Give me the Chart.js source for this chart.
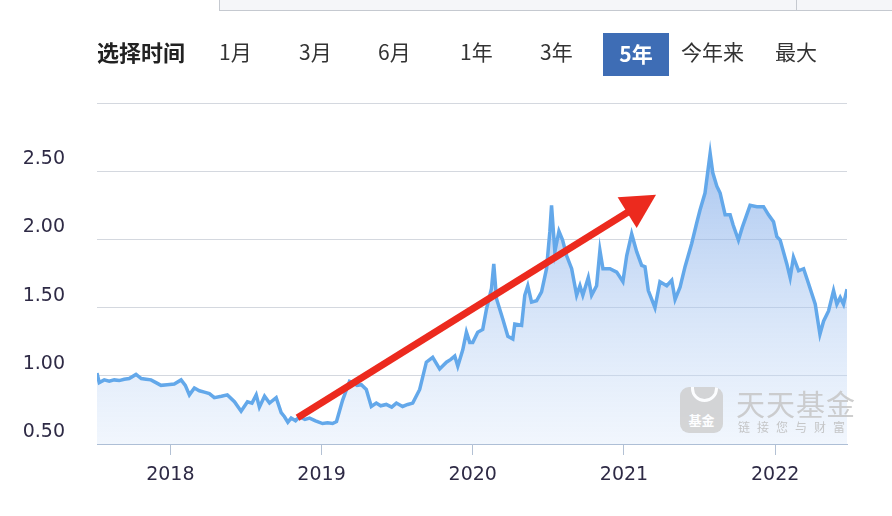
<!DOCTYPE html>
<html>
<head>
<meta charset="utf-8">
<script src="https://cdn.jsdelivr.net/npm/chart.js@4/dist/chart.umd.min.js"></script>
<style>
  body { margin: 0; background: #fff; }
  #wrap { position: relative; width: 892px; height: 516px; overflow: hidden; background: #fff; }
  #chart { position: absolute; left: 0; top: 0; }
  .tabbox { position: absolute; left: 219px; top: -2px; width: 690px; height: 12px; background: #f5f6f9; border-left: 1px solid #c5c9d0; border-bottom: 1px solid #c5c9d0; }
  .tabbox i { position: absolute; left: 576px; top: 0; height: 12px; border-left: 1px solid #c5c9d0; }
  .btn { position: absolute; top: 34px; font: 21px "Noto Sans CJK SC", sans-serif; color: #333; line-height: 34px; }
  .title { font-weight: bold; font-size: 22px; color: #222; }
  .on { background: #3e6db5; color: #fff; font-weight: bold; top: 33px; height: 43px; line-height: 41px; width: 66px; text-align: center; }
  .mark { position: absolute; left: 680px; top: 386px; opacity: 0.85; }
  .mark .ico { position: absolute; left: 0; top: 1px; width: 43px; height: 46px; border-radius: 9px; background: #cfcfcf; color: #fff; font: bold 13px "Noto Sans CJK SC"; text-align: center; line-height: 66px; overflow: hidden; }
  .mark .ico b { position: absolute; left: 11px; top: -9px; width: 21px; height: 18px; border: 3px solid #fff; border-radius: 0 0 14px 14px; }
  .mark .big { position: absolute; left: 56px; top: -4px; font: 29px "Noto Sans CJK SC"; color: #c6c6c6; white-space: nowrap; letter-spacing: 1px; }
  .mark .small { position: absolute; left: 58px; top: 32px; font: 12px "Noto Sans CJK SC"; color: #bdbdbd; white-space: nowrap; letter-spacing: 7px; }
</style>
</head>
<body>
<div id="wrap">
  <canvas id="chart" width="892" height="516"></canvas>
  <div class="tabbox"><i></i></div>
  <span class="btn title" style="left:97px">选择时间</span>
  <span class="btn" style="left:219px">1月</span>
  <span class="btn" style="left:299px">3月</span>
  <span class="btn" style="left:378px">6月</span>
  <span class="btn" style="left:460px">1年</span>
  <span class="btn" style="left:540px">3年</span>
  <span class="btn on" style="left:603px">5年</span>
  <span class="btn" style="left:681px">今年来</span>
  <span class="btn" style="left:775px">最大</span>
  <div class="mark">
    <div class="ico"><b></b>基金</div>
    <div class="big">天天基金</div>
    <div class="small">链接您与财富</div>
  </div>
</div>
<script>
const years = [
  2017.515, 2017.530, 2017.563, 2017.596, 2017.629, 2017.662, 2017.695, 2017.728, 2017.773, 2017.808,
  2017.840, 2017.872, 2017.905, 2017.938, 2017.980, 2018.026, 2018.071, 2018.099, 2018.126, 2018.159,
  2018.192, 2018.225, 2018.258, 2018.291, 2018.338, 2018.377, 2018.424, 2018.468, 2018.510, 2018.540,
  2018.568, 2018.589, 2018.623, 2018.656, 2018.700, 2018.733, 2018.755, 2018.777, 2018.799, 2018.828,
  2018.854, 2018.890, 2018.921, 2018.960, 2019.007, 2019.040, 2019.073, 2019.099, 2019.139, 2019.185,
  2019.205, 2019.235, 2019.263, 2019.296, 2019.329, 2019.362, 2019.391, 2019.428, 2019.464, 2019.495,
  2019.536, 2019.570, 2019.603, 2019.649, 2019.693, 2019.735, 2019.781, 2019.826, 2019.855, 2019.881,
  2019.901, 2019.934, 2019.958, 2019.980, 2020.000, 2020.033, 2020.066, 2020.091, 2020.124, 2020.139,
  2020.157, 2020.199, 2020.232, 2020.265, 2020.278, 2020.323, 2020.344, 2020.364, 2020.389, 2020.422,
  2020.455, 2020.488, 2020.510, 2020.521, 2020.543, 2020.570, 2020.594, 2020.621, 2020.654, 2020.687,
  2020.709, 2020.728, 2020.764, 2020.786, 2020.819, 2020.841, 2020.861, 2020.907, 2020.952, 2020.993,
  2021.018, 2021.051, 2021.084, 2021.117, 2021.139, 2021.161, 2021.205, 2021.238, 2021.283, 2021.316,
  2021.338, 2021.371, 2021.404, 2021.448, 2021.481, 2021.503, 2021.536, 2021.570, 2021.587, 2021.614,
  2021.636, 2021.669, 2021.702, 2021.722, 2021.757, 2021.783, 2021.834, 2021.879, 2021.923, 2021.956,
  2021.989, 2022.011, 2022.033, 2022.077, 2022.099, 2022.121, 2022.155, 2022.188, 2022.221, 2022.265,
  2022.296, 2022.320, 2022.353, 2022.386, 2022.408, 2022.430, 2022.452, 2022.475
]
const nav = [
  1.02, 0.95, 0.97, 0.96, 0.97, 0.965, 0.975, 0.98, 1.01, 0.98,
  0.975, 0.97, 0.95, 0.93, 0.935, 0.94, 0.97, 0.93, 0.86, 0.91,
  0.89, 0.88, 0.87, 0.84, 0.85, 0.86, 0.81, 0.74, 0.81, 0.80,
  0.86, 0.77, 0.85, 0.80, 0.84, 0.73, 0.70, 0.66, 0.69, 0.67,
  0.70, 0.68, 0.69, 0.67, 0.65, 0.655, 0.65, 0.665, 0.82, 0.96,
  0.95, 0.93, 0.935, 0.90, 0.775, 0.80, 0.78, 0.79, 0.77, 0.80,
  0.775, 0.79, 0.80, 0.90, 1.10, 1.135, 1.05, 1.10, 1.12, 1.145,
  1.07, 1.19, 1.32, 1.245, 1.245, 1.32, 1.34, 1.49, 1.64, 1.82,
  1.565, 1.415, 1.29, 1.27, 1.38, 1.37, 1.59, 1.66, 1.54, 1.55,
  1.615, 1.785, 2.06, 2.25, 1.91, 2.06, 1.995, 1.88, 1.785, 1.59,
  1.66, 1.59, 1.72, 1.59, 1.66, 1.92, 1.785, 1.785, 1.76, 1.69,
  1.88, 2.04, 1.91, 1.81, 1.80, 1.625, 1.50, 1.69, 1.66, 1.70,
  1.56, 1.65, 1.80, 1.97, 2.12, 2.215, 2.34, 2.63, 2.49, 2.39,
  2.34, 2.18, 2.18, 2.105, 1.995, 2.09, 2.25, 2.24, 2.24, 2.18,
  2.13, 2.02, 1.995, 1.82, 1.72, 1.87, 1.77, 1.785, 1.675, 1.525,
  1.305, 1.40, 1.475, 1.625, 1.525, 1.575, 1.525, 1.635
]
const yearTicks = [2018, 2019, 2020, 2021, 2022]
const navTicks = [0.5, 1.0, 1.5, 2.0, 2.5, 3.0]
const navLabels = ['0.50', '1.00', '1.50', '2.00', '2.50', '']

// red arrow drawn over the chart, ends given in chart values
const arrowFrom = { x: 2018.841, y: 0.692 }
const arrowTo = { x: 2021.212, y: 2.328 }

const redArrow = {
  id: 'redArrow',
  afterDatasetsDraw(chart) {
    const { ctx, scales } = chart
    const x1 = scales.x.getPixelForValue(arrowFrom.x)
    const y1 = scales.y.getPixelForValue(arrowFrom.y)
    const x2 = scales.x.getPixelForValue(arrowTo.x)
    const y2 = scales.y.getPixelForValue(arrowTo.y)
    const ang = Math.atan2(y2 - y1, x2 - x1)
    const headLen = 34
    const headHalf = 18
    const bx = x2 - headLen * Math.cos(ang)
    const by = y2 - headLen * Math.sin(ang)
    ctx.save()
    ctx.strokeStyle = '#ec2a1e'
    ctx.fillStyle = '#ec2a1e'
    ctx.lineWidth = 7
    ctx.lineCap = 'butt'
    ctx.beginPath()
    ctx.moveTo(x1, y1)
    ctx.lineTo(bx + 4 * Math.cos(ang), by + 4 * Math.sin(ang))
    ctx.stroke()
    ctx.beginPath()
    ctx.moveTo(x2, y2)
    ctx.lineTo(bx + headHalf * Math.sin(ang), by - headHalf * Math.cos(ang))
    ctx.lineTo(bx - headHalf * Math.sin(ang), by + headHalf * Math.cos(ang))
    ctx.closePath()
    ctx.fill()
    ctx.restore()
  }
}

const ctx = document.getElementById('chart').getContext('2d')
new Chart(ctx, {
  type: 'line',
  data: {
    datasets: [{
      data: years.map((t, i) => ({ x: t, y: nav[i] })),
      borderColor: '#63a8ea',
      borderWidth: 3.5,
      pointRadius: 0,
      tension: 0,
      fill: 'start',
      backgroundColor: (c) => {
        const area = c.chart.chartArea
        if (!area) return 'rgba(120,170,230,0.3)'
        const g = c.chart.ctx.createLinearGradient(0, area.top, 0, area.bottom)
        g.addColorStop(0, 'rgba(90,145,225,0.62)')
        g.addColorStop(1, 'rgba(215,230,250,0.35)')
        return g
      }
    }]
  },
  options: {
    responsive: false,
    animation: false,
    layout: { padding: { top: 103, right: 45, left: 0, bottom: 0 } },
    plugins: { legend: { display: false }, tooltip: { enabled: false } },
    scales: {
      x: {
        type: 'linear',
        min: years[0],
        max: years[years.length - 1],
        afterBuildTicks: (s) => { s.ticks = yearTicks.map(v => ({ value: v })) },
        afterFit: (s) => { s.height = 72 },
        grid: { drawOnChartArea: false, drawTicks: true, tickLength: 11, color: '#b3c1d4' },
        border: { display: true, color: '#aebfd6', width: 1 },
        ticks: {
          padding: 9,
          maxRotation: 0,
          color: '#2e2a45',
          font: { family: 'DejaVu Sans', size: 19 },
          callback: (v) => String(v)
        }
      },
      y: {
        min: navTicks[0],
        max: navTicks[navTicks.length - 1],
        afterBuildTicks: (s) => { s.ticks = navTicks.map(v => ({ value: v })) },
        afterFit: (s) => { s.width = 97 },
        grid: { drawTicks: false, color: '#d4d8df', lineWidth: 1 },
        border: { display: false },
        ticks: {
          padding: 32,
          labelOffset: -12,
          color: '#2e2a45',
          font: { family: 'DejaVu Sans', size: 19 },
          callback: (v, i) => navLabels[i]
        }
      }
    }
  },
  plugins: [redArrow]
})
</script>
</body>
</html>
